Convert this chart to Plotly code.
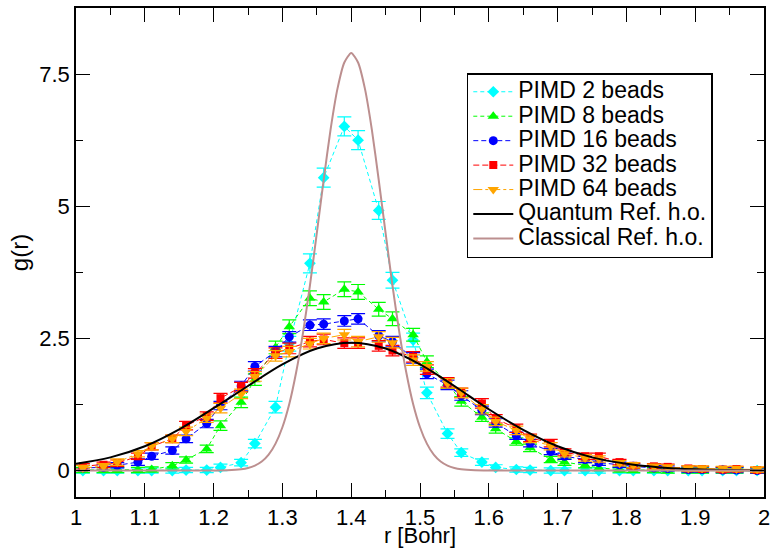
import plotly.graph_objects as go

r_pts = [1.01, 1.04, 1.06, 1.09, 1.11, 1.14, 1.16, 1.19, 1.21, 1.24, 1.26, 1.29, 1.31, 1.34, 1.36,
         1.39, 1.41, 1.44, 1.46, 1.49, 1.51, 1.54, 1.56, 1.59, 1.61, 1.64, 1.66, 1.69, 1.71, 1.74,
         1.76, 1.79, 1.81, 1.84, 1.86, 1.89, 1.91, 1.94, 1.96, 1.99]

g_2 = [0.0, 0.0, 0.0, 0.0, 0.0, 0.0, 0.01, 0.01, 0.06, 0.15, 0.51, 1.20, 2.40, 3.92, 5.54,
       6.51, 6.25, 4.92, 3.60, 2.47, 1.47, 0.70, 0.34, 0.16, 0.06, 0.02, 0.01, 0.0, 0.0, 0.0,
       0.0, 0.0, 0.0, 0.0, 0.0, 0.0, 0.0, 0.0, 0.0, 0.0]
e_2 = [0.05, 0.05, 0.05, 0.05, 0.05, 0.05, 0.05, 0.05, 0.06, 0.06, 0.08, 0.11, 0.14, 0.18, 0.18,
       0.18, 0.18, 0.17, 0.15, 0.13, 0.11, 0.09, 0.07, 0.06, 0.05, 0.05, 0.05, 0.05, 0.05, 0.05,
       0.05, 0.05, 0.05, 0.05, 0.05, 0.05, 0.05, 0.05, 0.05, 0.05]

g_8 = [0.01, 0.01, 0.01, 0.01, 0.02, 0.09, 0.20, 0.41, 0.85, 1.29, 1.72, 2.33, 2.72, 3.26, 3.19,
       3.43, 3.38, 3.05, 2.87, 2.57, 2.06, 1.65, 1.31, 1.01, 0.79, 0.55, 0.43, 0.21, 0.16, 0.10,
       0.05, 0.02, 0.01, 0.01, 0.0, 0.0, 0.0, 0.0, 0.0, 0.0]
e_8 = [0.05, 0.05, 0.05, 0.05, 0.05, 0.06, 0.06, 0.07, 0.09, 0.10, 0.11, 0.12, 0.13, 0.14, 0.14,
       0.14, 0.14, 0.13, 0.13, 0.12, 0.11, 0.10, 0.09, 0.08, 0.08, 0.07, 0.07, 0.06, 0.06, 0.05,
       0.05, 0.05, 0.05, 0.05, 0.05, 0.05, 0.05, 0.05, 0.05, 0.05]

g_16 = [0.05, 0.06, 0.10, 0.16, 0.27, 0.38, 0.60, 0.89, 1.23, 1.60, 1.97, 2.25, 2.53, 2.75, 2.77,
        2.83, 2.87, 2.55, 2.44, 2.13, 1.83, 1.62, 1.42, 1.14, 0.90, 0.66, 0.52, 0.36, 0.27, 0.21,
        0.15, 0.11, 0.08, 0.05, 0.04, 0.02, 0.02, 0.01, 0.01, 0.0]
e_16 = [0.05, 0.05, 0.05, 0.06, 0.06, 0.07, 0.07, 0.08, 0.08, 0.09, 0.09, 0.10, 0.10, 0.10, 0.10,
        0.10, 0.10, 0.10, 0.10, 0.10, 0.09, 0.09, 0.09, 0.08, 0.08, 0.07, 0.07, 0.06, 0.06, 0.06,
        0.05, 0.05, 0.05, 0.05, 0.05, 0.05, 0.05, 0.05, 0.05, 0.05]

g_32 = [0.08, 0.11, 0.14, 0.27, 0.46, 0.60, 0.85, 1.03, 1.37, 1.58, 1.84, 2.22, 2.31, 2.44, 2.48,
        2.41, 2.41, 2.36, 2.27, 2.15, 1.91, 1.67, 1.47, 1.27, 0.98, 0.80, 0.62, 0.52, 0.35, 0.27,
        0.27, 0.16, 0.09, 0.08, 0.07, 0.04, 0.03, 0.02, 0.03, 0.01]
e_32 = [0.05, 0.05, 0.06, 0.06, 0.07, 0.07, 0.08, 0.08, 0.09, 0.09, 0.09, 0.10, 0.10, 0.10, 0.10,
        0.10, 0.10, 0.10, 0.10, 0.10, 0.09, 0.09, 0.09, 0.09, 0.08, 0.08, 0.07, 0.07, 0.06, 0.06,
        0.06, 0.05, 0.05, 0.05, 0.05, 0.05, 0.05, 0.05, 0.05, 0.05]

g_64 = [0.05, 0.08, 0.16, 0.32, 0.46, 0.60, 0.74, 0.99, 1.18, 1.45, 1.78, 2.17, 2.25, 2.40, 2.50,
        2.57, 2.44, 2.53, 2.42, 2.09, 1.97, 1.65, 1.47, 1.16, 0.93, 0.76, 0.60, 0.46, 0.32, 0.24,
        0.22, 0.14, 0.10, 0.07, 0.06, 0.04, 0.04, 0.03, 0.03, 0.02]
e_64 = [0.05, 0.05, 0.06, 0.06, 0.07, 0.07, 0.08, 0.08, 0.09, 0.09, 0.09, 0.10, 0.10, 0.10, 0.10,
        0.10, 0.10, 0.10, 0.10, 0.10, 0.09, 0.09, 0.09, 0.09, 0.08, 0.08, 0.07, 0.07, 0.06, 0.06,
        0.06, 0.05, 0.05, 0.05, 0.05, 0.05, 0.05, 0.05, 0.05, 0.05]

r_quant = [1.00, 1.05, 1.10, 1.15, 1.20, 1.25, 1.30, 1.35, 1.40, 1.45, 1.50, 1.55, 1.60, 1.65,
           1.70, 1.75, 1.80, 1.85, 1.90, 1.95, 2.00]
g_quant = [0.13, 0.25, 0.46, 0.78, 1.18, 1.60, 2.01, 2.31, 2.42, 2.31, 2.01, 1.60, 1.16, 0.77,
           0.46, 0.25, 0.13, 0.06, 0.025, 0.01, 0.003]

r_class = [1.00, 1.10, 1.20, 1.22, 1.24, 1.25, 1.26, 1.27, 1.28, 1.29, 1.30, 1.31, 1.32, 1.33,
           1.34, 1.35, 1.36, 1.37, 1.38, 1.39, 1.40, 1.41, 1.42, 1.43, 1.44, 1.45, 1.46, 1.47,
           1.48, 1.49, 1.50, 1.51, 1.52, 1.53, 1.54, 1.55, 1.56, 1.58, 1.60, 1.70, 1.80, 1.90, 2.00]
g_class = [0.0, 0.0, 0.001, 0.005, 0.024, 0.048, 0.093, 0.17, 0.30, 0.51, 0.82, 1.26, 1.86, 2.61,
           3.50, 4.49, 5.50, 6.45, 7.22, 7.72, 7.90, 7.72, 7.22, 6.45, 5.50, 4.49, 3.50, 2.61,
           1.86, 1.26, 0.82, 0.51, 0.30, 0.17, 0.093, 0.048, 0.024, 0.005, 0.001, 0.0, 0.0, 0.0, 0.0]

labels = ["PIMD 2 beads", "PIMD 8 beads", "PIMD 16 beads", "PIMD 32 beads", "PIMD 64 beads",
          "Quantum Ref. h.o.", "Classical Ref. h.o."]
x_ticks = [1.0, 1.1, 1.2, 1.3, 1.4, 1.5, 1.6, 1.7, 1.8, 1.9, 2.0]
x_ticktext = ["1", "1.1", "1.2", "1.3", "1.4", "1.5", "1.6", "1.7", "1.8", "1.9", "2"]
y_ticks = [0, 2.5, 5, 7.5]
y_ticktext = ["0", "2.5", "5", "7.5"]

FONT = "Liberation Sans, Arial, sans-serif"


def legend_name(s):
    return '<span style="font-size:23px">' + s + '</span>'


series = [
    (g_2, e_2, "#00FFFF", "diamond", 9, "4px,3px"),
    (g_8, e_8, "#00FF00", "triangle-up", 10, "4px,3px"),
    (g_16, e_16, "#0000FF", "circle", 9, "5px,3px"),
    (g_32, e_32, "#FF0000", "square", 8, "6px,3px"),
    (g_64, e_64, "#FFA500", "triangle-down", 10, "dashdot"),
]

fig = go.Figure()
for (g, e, col, sym, size, dash), name in zip(series, labels[:5]):
    fig.add_trace(go.Scatter(
        x=r_pts, y=g, name=legend_name(name), mode="lines+markers",
        line=dict(color=col, width=1, dash=dash),
        marker=dict(color=col, symbol=sym, size=size, line=dict(width=0)),
        error_y=dict(type="data", array=e, visible=True, color=col, thickness=1.2, width=7),
    ))

fig.add_trace(go.Scatter(x=r_quant, y=g_quant, name=legend_name(labels[5]), mode="lines",
                         line=dict(color="black", width=2, shape="spline")))
fig.add_trace(go.Scatter(x=r_class, y=g_class, name=legend_name(labels[6]), mode="lines",
                         line=dict(color="#BC8F8F", width=2, shape="spline", smoothing=0.6)))

axis_common = dict(
    showline=True, linecolor="black", linewidth=1.5, mirror="ticks",
    ticks="inside", ticklen=14, tickwidth=1, tickcolor="black",
    showgrid=False, zeroline=False, automargin=False, ticklabeloverflow="allow",
    tickfont=dict(family=FONT, size=22, color="black"),
)

fig.update_xaxes(range=[1, 2], tickvals=x_ticks, ticktext=x_ticktext,
                 minor=dict(ticks="inside", ticklen=7, dtick=0.05, tickcolor="black", showgrid=False),
                 title=dict(text="r [Bohr]", font=dict(family=FONT, size=22, color="black"), standoff=5),
                 **axis_common)
fig.update_yaxes(range=[-0.5, 8.75], tickvals=y_ticks, ticktext=y_ticktext,
                 minor=dict(ticks="inside", ticklen=7, tickvals=[1.25, 3.75, 6.25], tickcolor="black", showgrid=False),
                 title=dict(text="g(r)", font=dict(family=FONT, size=24, color="black"), standoff=4),
                 **axis_common)

fig.update_layout(
    width=770, height=548,
    margin=dict(l=76, r=6, t=8, b=51),
    paper_bgcolor="white", plot_bgcolor="white",
    font=dict(family=FONT, size=18, color="black"),
    showlegend=True,
    legend=dict(x=0.568, y=0.867, xanchor="left", yanchor="top",
                bgcolor="white", bordercolor="black", borderwidth=1.5,
                font=dict(family=FONT, size=16.5, color="black"),
                tracegroupgap=0, itemwidth=40),
)

fig.write_html("out.html")
